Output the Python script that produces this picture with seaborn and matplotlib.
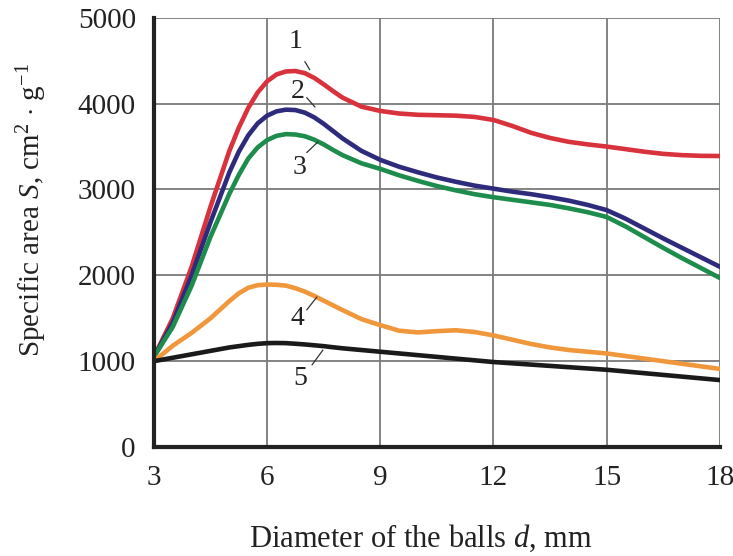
import matplotlib
matplotlib.use("Agg")
import matplotlib.pyplot as plt
import seaborn as sns
import pandas as pd

# ---- data ----
x_vals = [3, 3.5, 4, 4.5, 5, 5.25, 5.5, 5.75, 6, 6.25, 6.5, 6.75, 7, 7.25, 7.5, 7.75, 8, 8.5,
          9, 9.5, 10, 10.5, 11, 11.5, 12, 12.5, 13, 13.5, 14, 14.5, 15, 15.5, 16, 16.5, 17, 17.5, 18]
s1 = [1050, 1500, 2100, 2800, 3450, 3720, 3950, 4130, 4260, 4340, 4375, 4380, 4355, 4300, 4225, 4145, 4070, 3965,
      3915, 3885, 3870, 3865, 3860, 3845, 3810, 3740, 3660, 3600, 3555, 3525, 3500, 3470, 3440, 3415, 3400, 3392, 3390]
s2 = [1050, 1450, 2000, 2620, 3200, 3440, 3630, 3770, 3860, 3910, 3930, 3925, 3895, 3840, 3765, 3680, 3595, 3450,
      3345, 3265, 3200, 3140, 3090, 3045, 3010, 2975, 2945, 2910, 2870, 2820, 2760, 2660, 2545, 2430, 2320, 2210, 2100]
s3 = [1050, 1400, 1880, 2450, 2950, 3170, 3360, 3490, 3575, 3625, 3645, 3640, 3620, 3580, 3525, 3460, 3400, 3305,
      3240, 3165, 3100, 3040, 2990, 2945, 2910, 2880, 2850, 2820, 2780, 2735, 2680, 2570, 2445, 2320, 2200, 2085, 1970]
s4 = [1000, 1180, 1330, 1500, 1700, 1790, 1855, 1885, 1893, 1890, 1880, 1850, 1810, 1760, 1705, 1650, 1595, 1490,
      1420, 1355, 1335, 1350, 1360, 1340, 1300, 1250, 1200, 1160, 1130, 1110, 1090, 1060, 1030, 1000, 970, 940, 910]
s5 = [1000, 1040, 1080, 1120, 1160, 1175, 1190, 1202, 1210, 1212, 1210, 1203, 1195, 1185, 1175, 1162, 1150, 1130,
      1110, 1090, 1070, 1050, 1030, 1010, 990, 975, 960, 945, 930, 915, 900, 880, 860, 840, 820, 800, 780]
series_names = ["1", "2", "3", "4", "5"]
colors = ["#d8323c", "#2f2b7c", "#1d8c4c", "#f0973c", "#1a1a1a"]
x_ticks = [3, 6, 9, 12, 15, 18]
y_ticks = [0, 1000, 2000, 3000, 4000, 5000]

rows = []
for name, vals in zip(series_names, [s1, s2, s3, s4, s5]):
    for xv, yv in zip(x_vals, vals):
        rows.append({"d": xv, "S": yv, "curve": name})
df = pd.DataFrame(rows)

sns.set_style("white")
plt.rcParams["font.family"] = ["Liberation Serif", "DejaVu Serif"]
plt.rcParams["mathtext.fontset"] = "custom"
plt.rcParams["mathtext.rm"] = "Liberation Serif"
plt.rcParams["mathtext.it"] = "Liberation Serif:italic"

FS = 21
TXT = "#222222"

fig = plt.figure(figsize=(7.33, 5.56), dpi=100)
ax = fig.add_axes([0.210, 0.196, 0.772, 0.772])

for name, c in zip(series_names, colors):
    sub = df[df["curve"] == name]
    sns.lineplot(data=sub, x="d", y="S", ax=ax, color=c, linewidth=3.3,
                 solid_joinstyle="round", solid_capstyle="round", legend=False)

ax.set_xlim(3, 18)
ax.set_ylim(0, 5000)
ax.set_xticks(x_ticks)
ax.set_yticks(y_ticks)
ax.grid(True, color="#7a7a7a", linewidth=1.3)
ax.set_axisbelow(True)
for side in ["top", "right"]:
    ax.spines[side].set_visible(False)
for side in ["left", "bottom"]:
    ax.spines[side].set_color(TXT)
    ax.spines[side].set_linewidth(3)
ax.tick_params(axis="both", length=0, labelsize=FS, colors=TXT)
ax.tick_params(axis="y", pad=13)
ax.tick_params(axis="x", pad=13)

ax.set_xlabel("Diameter of the balls $d$, mm", fontsize=22, color=TXT)
ax.set_ylabel("Specific area $S$, cm$^{2}$ $\\cdot$ g$^{-1}$", fontsize=FS, color=TXT)
ax.xaxis.set_label_coords(0.472, -0.212)
ax.xaxis.label.set_va("center")
ax.yaxis.set_label_coords(-0.2155, 0.552)
ax.yaxis.label.set_va("center")

labels = [
    ("1", (6.75, 4720), (7.0, 4490), (7.13, 4395)),
    ("2", (6.82, 4140), (7.05, 4070), (7.27, 3960)),
    ("3", (6.87, 3260), (7.05, 3430), (7.35, 3555)),
    ("4", (6.79, 1500), (7.05, 1597), (7.32, 1748)),
    ("5", (6.87, 800), (7.19, 956), (7.48, 1130)),
]
for txt, tpos, a, b in labels:
    ax.text(tpos[0], tpos[1], txt, fontsize=20, ha="center", va="center", color=TXT)
    ax.plot([a[0], b[0]], [a[1], b[1]], color="#333333", linewidth=0.9)

fig.savefig("out.png", dpi=100)
